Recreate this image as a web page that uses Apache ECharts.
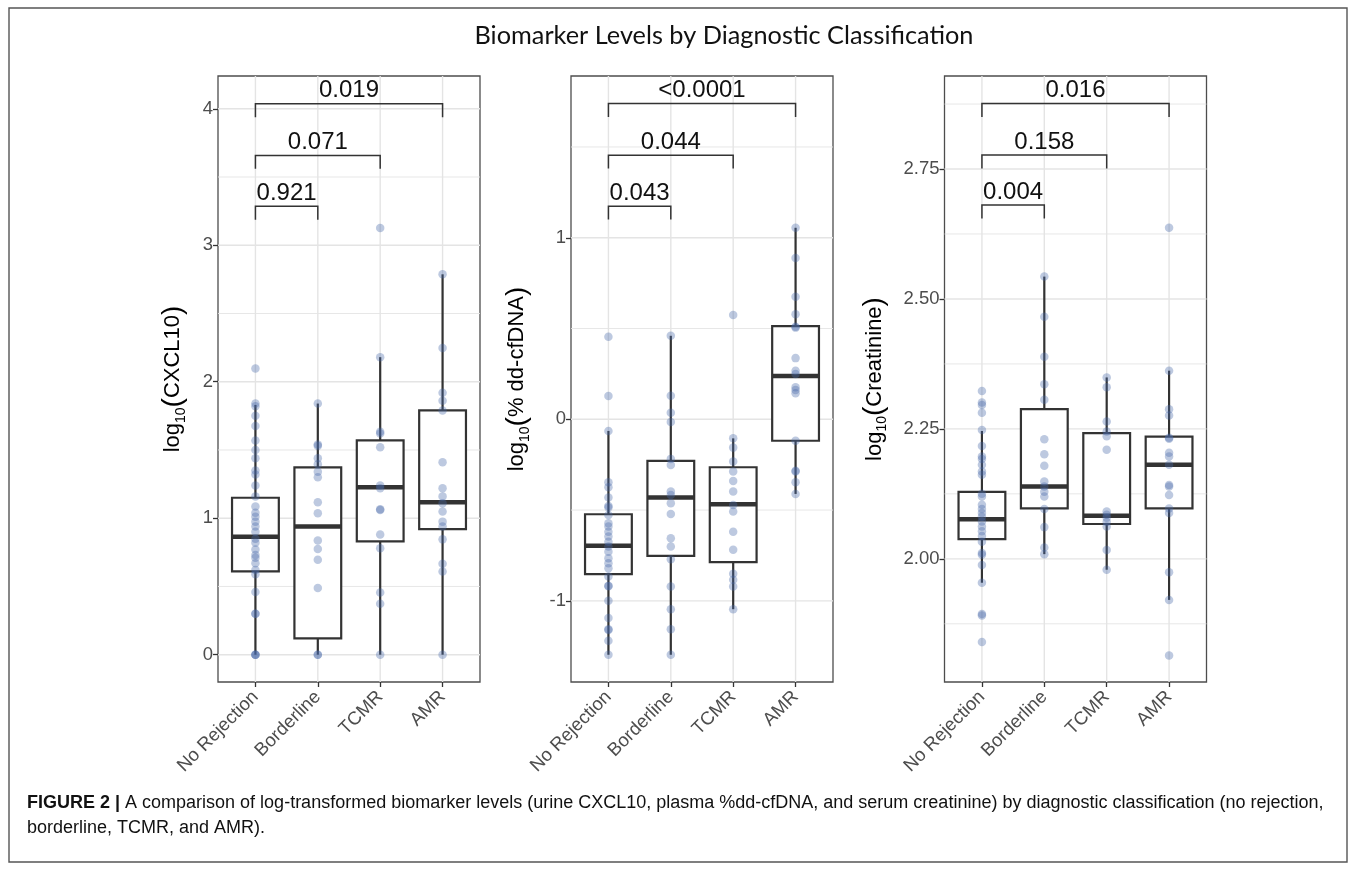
<!DOCTYPE html>
<html>
<head>
<meta charset="utf-8">
<script src="https://cdn.jsdelivr.net/npm/echarts@6/dist/echarts.min.js"></script>
<style>
  html, body { margin: 0; padding: 0; background: #fff; }
  #chart { width: 1355px; height: 870px; }
</style>
</head>
<body>
<div id="chart"></div>
<script>
const categories = ['No Rejection', 'Borderline', 'TCMR', 'AMR']

// box stats per group: [min, Q1, median, Q3, max]
const cxcl10Boxes = [
  [0, 0.61, 0.865, 1.15, 1.83],
  [0, 0.12, 0.94, 1.373, 1.84],
  [0, 0.83, 1.227, 1.57, 2.18],
  [0, 0.92, 1.117, 1.79, 2.787]
]
const cxcl10Points = [
  [2.097, 1.84, 1.82, 1.75, 1.675, 1.57, 1.5, 1.44, 1.35, 1.32, 1.24, 1.16, 1.085, 1.04, 1.01, 0.975,
    0.94, 0.9, 0.85, 0.82, 0.77, 0.73, 0.71, 0.67, 0.62, 0.59, 0.46, 0.3, 0.3, 0, 0, 0],
  [1.84, 1.54, 1.53, 1.44, 1.395, 1.34, 1.3, 1.117, 1.036, 0.836, 0.775, 0.695, 0.488, 0, 0],
  [3.126, 2.18, 1.634, 1.62, 1.52, 1.24, 1.22, 1.065, 1.06, 0.88, 0.78, 0.456, 0.373, 0],
  [2.787, 2.248, 1.92, 1.86, 1.79, 1.41, 1.22, 1.16, 1.11, 1.05, 0.975, 0.94, 0.845, 0.666, 0.61, 0]
]

const cfdnaBoxes = [
  [-1.297, -0.853, -0.697, -0.523, -0.064],
  [-1.297, -0.752, -0.431, -0.229, 0.46],
  [-1.046, -0.787, -0.468, -0.264, -0.105],
  [-0.411, -0.118, 0.238, 0.513, 1.055]
]
const cfdnaPoints = [
  [0.455, 0.128, -0.064, -0.347, -0.374, -0.431, -0.477, -0.486, -0.527, -0.572, -0.591, -0.619, -0.646,
    -0.674, -0.701, -0.729, -0.765, -0.793, -0.82, -0.866, -0.917, -0.92, -1.0, -1.095, -1.156, -1.16, -1.22, -1.297],
  [0.46, 0.13, 0.036, -0.015, -0.218, -0.252, -0.398, -0.417, -0.462, -0.521, -0.655, -0.701, -0.771,
    -0.921, -1.046, -1.156, -1.297],
  [0.574, -0.105, -0.156, -0.233, -0.288, -0.34, -0.398, -0.472, -0.508, -0.619, -0.719, -0.851, -0.884, -0.921, -1.046],
  [1.055, 0.889, 0.675, 0.578, 0.51, 0.505, 0.337, 0.268, 0.249, 0.176, 0.161, 0.143, -0.118, -0.283, -0.288, -0.347, -0.411]
]

const creatBoxes = [
  [1.954, 2.038, 2.076, 2.129, 2.246],
  [2.009, 2.097, 2.139, 2.288, 2.543],
  [1.979, 2.067, 2.083, 2.242, 2.349],
  [1.921, 2.097, 2.181, 2.235, 2.362]
]
const creatPoints = [
  [2.323, 2.301, 2.296, 2.281, 2.248, 2.217, 2.197, 2.192, 2.181, 2.168, 2.162, 2.125, 2.12, 2.104, 2.096,
    2.088, 2.081, 2.072, 2.062, 2.053, 2.044, 2.033, 2.011, 2.008, 1.988, 1.954, 1.894, 1.891, 1.84],
  [2.543, 2.466, 2.389, 2.336, 2.306, 2.23, 2.201, 2.179, 2.149, 2.139, 2.129, 2.12, 2.096, 2.061, 2.022, 2.009],
  [2.349, 2.33, 2.264, 2.245, 2.236, 2.21, 2.091, 2.085, 2.079, 2.071, 2.062, 2.017, 1.979],
  [2.637, 2.362, 2.288, 2.276, 2.233, 2.231, 2.204, 2.197, 2.181, 2.142, 2.139, 2.123, 2.097, 2.088, 1.974, 1.921, 1.814]
]

// comparison brackets: group pairs, bar level, tip level, p-value text
const bracketPairs = [[0, 1], [0, 2], [0, 3]]
const cxcl10BracketBar = [3.285, 3.658, 4.036]
const cxcl10BracketTip = [3.187, 3.56, 3.938]
const cxcl10P = ['0.921', '0.071', '0.019']
const cfdnaBracketBar = [1.174, 1.455, 1.739]
const cfdnaBracketTip = [1.101, 1.381, 1.665]
const cfdnaP = ['0.043', '0.044', '<0.0001']
const creatBracketBar = [2.681, 2.777, 2.876]
const creatBracketTip = [2.655, 2.751, 2.85]
const creatP = ['0.004', '0.158', '0.016']

// axis ranges, ticks and gridlines
const cxcl10Range = [-0.2, 4.24]
const cxcl10Ticks = [0, 1, 2, 3, 4]
const cxcl10Minor = [0.5, 1.5, 2.5, 3.5]
const cfdnaRange = [-1.447, 1.891]
const cfdnaTicks = [-1, 0, 1]
const cfdnaMinor = [-0.5, 0.5, 1.5]
const creatRange = [1.763, 2.929]
const creatTicks = [2, 2.25, 2.5, 2.75]
const creatMinor = [1.875, 2.125, 2.375, 2.625, 2.875]

const FONT = 'Liberation Sans, Arial, Helvetica, sans-serif'
const LINE = '#333333'

const panels = [
  { left: 218, name: 'CXCL10', gap: 30, range: cxcl10Range, ticks: cxcl10Ticks, minor: cxcl10Minor, fmt: v => String(v),
    boxes: cxcl10Boxes, points: cxcl10Points, bar: cxcl10BracketBar, tip: cxcl10BracketTip, p: cxcl10P },
  { left: 571, name: '% dd-cfDNA', gap: 39, range: cfdnaRange, ticks: cfdnaTicks, minor: cfdnaMinor, fmt: v => String(v),
    boxes: cfdnaBoxes, points: cfdnaPoints, bar: cfdnaBracketBar, tip: cfdnaBracketTip, p: cfdnaP },
  { left: 944.5, name: 'Creatinine', gap: 55, range: creatRange, ticks: creatTicks, minor: creatMinor, fmt: v => v.toFixed(2),
    boxes: creatBoxes, points: creatPoints, bar: creatBracketBar, tip: creatBracketTip, p: creatP }
]

function renderHLine(params, api) {
  const cs = params.coordSys
  const y = api.coord([0, api.value(0)])[1]
  return {
    type: 'line',
    shape: { x1: cs.x, y1: y, x2: cs.x + cs.width, y2: y },
    style: { stroke: '#e4e4e4', lineWidth: api.value(1) ? 1.4 : 0.9 }
  }
}

function renderVLine(params, api) {
  const cs = params.coordSys
  const x = api.coord([api.value(0), 0])[0]
  return {
    type: 'line',
    shape: { x1: x, y1: cs.y, x2: x, y2: cs.y + cs.height },
    style: { stroke: '#e4e4e4', lineWidth: 1.4 }
  }
}

function renderBox(params, api) {
  const x = api.value(0)
  const lo = api.coord([x, api.value(1)])
  const q1 = api.coord([x, api.value(2)])
  const md = api.coord([x, api.value(3)])
  const q3 = api.coord([x, api.value(4)])
  const hi = api.coord([x, api.value(5)])
  const w = api.size([0.75, 0])[0]
  const ls = { stroke: LINE, lineWidth: 2.2 }
  return {
    type: 'group',
    children: [
      { type: 'line', shape: { x1: lo[0], y1: lo[1], x2: q1[0], y2: q1[1] }, style: ls },
      { type: 'line', shape: { x1: q3[0], y1: q3[1], x2: hi[0], y2: hi[1] }, style: ls },
      { type: 'rect', shape: { x: q3[0] - w / 2, y: q3[1], width: w, height: q1[1] - q3[1] },
        style: { fill: '#fff', stroke: LINE, lineWidth: 2.2 } },
      { type: 'line', shape: { x1: md[0] - w / 2, y1: md[1], x2: md[0] + w / 2, y2: md[1] },
        style: { stroke: LINE, lineWidth: 4.5 } }
    ]
  }
}

function makeBracketRenderer(labels) {
  return function (params, api) {
    const x1 = api.value(0), x2 = api.value(1)
    const bar = api.value(2), tip = api.value(3)
    const a = api.coord([x1, tip])
    const b = api.coord([x1, bar])
    const c = api.coord([x2, bar])
    const d = api.coord([x2, tip])
    return {
      type: 'group',
      children: [
        { type: 'polyline', shape: { points: [a, b, c, d] }, style: { stroke: LINE, lineWidth: 1.5, fill: null } },
        { type: 'text', x: (b[0] + c[0]) / 2, y: b[1] - 1,
          style: { text: labels[params.dataIndex], align: 'center', verticalAlign: 'bottom',
            fontSize: 24, fontFamily: FONT, fill: '#111' } }
      ]
    }
  }
}

const grid = [], xAxis = [], yAxis = [], series = []

panels.forEach((p, i) => {
  grid.push({ left: p.left, top: 76, width: 262, height: 606, show: true,
    borderColor: '#4d4d4d', borderWidth: 1.3, backgroundColor: 'transparent' })

  xAxis.push({
    gridIndex: i, type: 'value', min: -0.6, max: 3.6, position: 'bottom',
    axisLine: { show: false, onZero: false },
    splitLine: { show: false },
    axisTick: { show: true, length: 5, customValues: [0, 1, 2, 3], lineStyle: { color: LINE, width: 1.3 } },
    axisLabel: {
      customValues: [0, 1, 2, 3], rotate: 45, margin: 12,
      fontSize: 18.5, color: '#4d4d4d', fontFamily: FONT,
      formatter: v => categories[Math.round(v)] || ''
    }
  })

  yAxis.push({
    gridIndex: i, type: 'value', min: p.range[0], max: p.range[1], position: 'left',
    name: '{n|log}{s|10}{p|(}{n|' + p.name + '}{p|)}',
    nameLocation: 'middle', nameGap: p.gap, nameRotate: 90,
    nameTextStyle: {
      color: '#000', fontFamily: FONT,
      rich: {
        n: { fontSize: 22, fontFamily: FONT, color: '#000', lineHeight: 30 },
        s: { fontSize: 14, fontFamily: FONT, color: '#000', verticalAlign: 'bottom', lineHeight: 14 },
        p: { fontSize: 28, fontFamily: FONT, color: '#000', lineHeight: 30 }
      }
    },
    axisLine: { show: false, onZero: false },
    splitLine: { show: false },
    axisTick: { show: true, length: 5, customValues: p.ticks, lineStyle: { color: LINE, width: 1.3 } },
    axisLabel: { customValues: p.ticks, margin: 5, fontSize: 18.5, color: '#4d4d4d', fontFamily: FONT, formatter: p.fmt }
  })

  series.push({
    type: 'custom', xAxisIndex: i, yAxisIndex: i, z: 1, silent: true,
    renderItem: renderHLine,
    data: p.ticks.map(v => [v, 1]).concat(p.minor.map(v => [v, 0]))
  })
  series.push({
    type: 'custom', xAxisIndex: i, yAxisIndex: i, z: 1, silent: true,
    renderItem: renderVLine,
    data: categories.map((c, k) => [k])
  })
  series.push({
    type: 'custom', xAxisIndex: i, yAxisIndex: i, z: 2, silent: true,
    renderItem: renderBox,
    encode: { x: 0, y: [1, 2, 3, 4, 5] },
    data: p.boxes.map((b, k) => [k].concat(b))
  })
  series.push({
    type: 'scatter', xAxisIndex: i, yAxisIndex: i, z: 3, silent: true,
    symbolSize: 8.5,
    itemStyle: { color: 'rgba(72,106,168,0.45)' },
    data: p.points.flatMap((arr, k) => arr.map(v => [k, v]))
  })
  series.push({
    type: 'custom', xAxisIndex: i, yAxisIndex: i, z: 4, silent: true,
    renderItem: makeBracketRenderer(p.p),
    clip: false,
    data: bracketPairs.map((pr, k) => [pr[0], pr[1], p.bar[k], p.tip[k]])
  })
})

const chart = echarts.init(document.getElementById('chart'))
chart.setOption({
  backgroundColor: '#fff',
  animation: false,
  grid, xAxis, yAxis, series,
  graphic: [
    { type: 'rect', shape: { x: 9, y: 8, width: 1338, height: 854 },
      style: { fill: null, stroke: '#555', lineWidth: 1.4 }, z: 0, silent: true },
    { type: 'text', x: 724, y: 36,
      style: { text: 'Biomarker Levels by Diagnostic Classification', align: 'center', verticalAlign: 'middle',
        fontSize: 25.3, fontFamily: 'Lato, Open Sans, sans-serif', fill: '#111' } },
    { type: 'text', x: 27, y: 791,
      style: {
        text: '{b|FIGURE 2 |} {n|A comparison of log-transformed biomarker levels (urine CXCL10, plasma %dd-cfDNA, and serum creatinine) by diagnostic classification (no rejection,}\n{n|borderline, TCMR, and AMR).}',
        fontFamily: FONT, fontSize: 18, fill: '#111',
        rich: {
          b: { fontWeight: 'bold', fontSize: 18, fontFamily: FONT, lineHeight: 25 },
          n: { fontSize: 18, fontFamily: FONT, lineHeight: 25 }
        }
      } }
  ]
})
</script>
</body>
</html>
